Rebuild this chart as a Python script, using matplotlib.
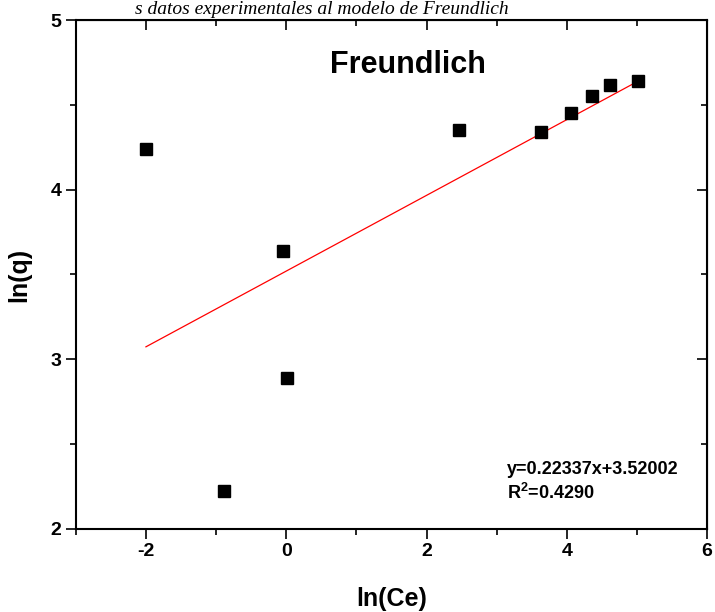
import numpy as np
import matplotlib.pyplot as plt
from matplotlib.ticker import MultipleLocator

plt.rcParams['font.family'] = ['Liberation Sans', 'DejaVu Sans']
plt.rcParams['font.weight'] = 'bold'
plt.rcParams['axes.unicode_minus'] = False
plt.rcParams['mathtext.fontset'] = 'custom'
plt.rcParams['mathtext.rm'] = 'Liberation Sans:bold'
plt.rcParams['mathtext.bf'] = 'Liberation Sans:bold'

# datos experimentales
ln_ce = [-2.0, -0.89, -0.04, 0.01, 2.46, 3.63, 4.06, 4.36, 4.61, 5.01]
ln_q = [4.24, 2.22, 3.64, 2.89, 4.35, 4.34, 4.45, 4.55, 4.62, 4.64]

# ajuste lineal
pendiente = 0.22337
intercepto = 3.52002
r2 = 0.4290

fig = plt.figure(figsize=(7.15, 6.12), dpi=100)
ax = fig.add_axes([0.106, 0.136, 0.883, 0.831])

ax.plot(ln_ce, ln_q, 's', color='black', ms=9, zorder=3)
xf = np.array([min(ln_ce), max(ln_ce)])
ax.plot(xf, pendiente * xf + intercepto, color='red', lw=0.9)

ax.set_xlim(-3, 6)
ax.set_ylim(2, 5)
ax.xaxis.set_major_locator(MultipleLocator(2))
ax.xaxis.set_minor_locator(MultipleLocator(1))
ax.yaxis.set_major_locator(MultipleLocator(1))
ax.yaxis.set_minor_locator(MultipleLocator(0.5))
ax.tick_params(which='both', direction='out', width=1.2, top=False, right=False, labelsize=14)
ax.tick_params(which='major', length=7)
ax.tick_params(which='minor', length=4)
for s in ax.spines.values():
    s.set_linewidth(1.5)

# ticks interiores arriba y derecha
ax2 = ax.secondary_xaxis('top')
ax2.xaxis.set_major_locator(MultipleLocator(2))
ax2.xaxis.set_minor_locator(MultipleLocator(1))
ax2.tick_params(which='both', direction='in', labeltop=False, width=1.2)
ax2.tick_params(which='major', length=7)
ax2.tick_params(which='minor', length=4)
ax3 = ax.secondary_yaxis('right')
ax3.yaxis.set_major_locator(MultipleLocator(1))
ax3.yaxis.set_minor_locator(MultipleLocator(0.5))
ax3.tick_params(which='both', direction='in', labelright=False, width=1.2)
ax3.tick_params(which='major', length=7)
ax3.tick_params(which='minor', length=4)

ax.set_xlabel('ln(Ce)', fontsize=18, fontweight='bold', labelpad=19)
ax.set_ylabel('ln(q)', fontsize=18, fontweight='bold', labelpad=14)

ax.text(0.526, 0.912, 'Freundlich', transform=ax.transAxes, ha='center', va='center',
        fontsize=22, fontweight='bold')
ax.text(0.683, 0.092, 'y=0.22337x+3.52002\nR$^{2}$=0.4290', transform=ax.transAxes,
        ha='left', va='center', fontsize=13, fontweight='bold', linespacing=1.35)

fig.text(0.45, 0.999, 's datos experimentales al modelo de Freundlich', ha='center', va='top',
         fontsize=14, fontstyle='italic', fontweight='normal', family='Liberation Serif')

fig.savefig('out.png', dpi=100)
